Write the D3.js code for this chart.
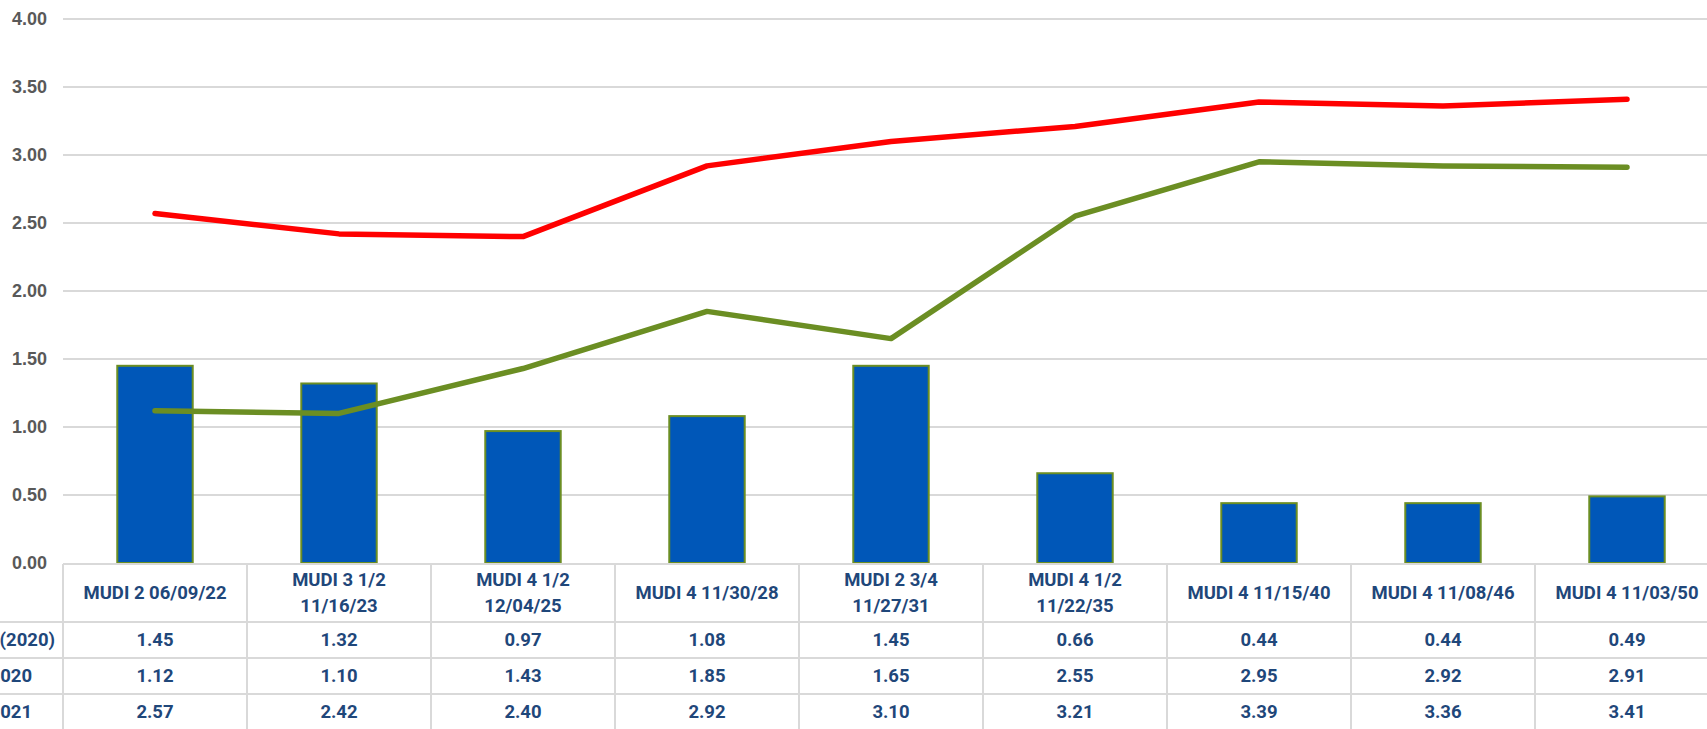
<!DOCTYPE html>
<html>
<head>
<meta charset="utf-8">
<script src="https://cdn.jsdelivr.net/npm/d3@7"></script>
<style>
  body { margin: 0; background: #fff; }
  svg { display: block; }
</style>
</head>
<body>
<div id="combo-chart"></div>
<script>
(function() {
  var width = 1707, height = 729;
  var margin = { top: 19, left: 63, bottom: 166 };

  // bond names, a "|" splits the header into two lines
  var categories = ["MUDI 2 06/09/22", "MUDI 3 1/2|11/16/23", "MUDI 4 1/2|12/04/25", "MUDI 4 11/30/28",
    "MUDI 2 3/4|11/27/31", "MUDI 4 1/2|11/22/35", "MUDI 4 11/15/40", "MUDI 4 11/08/46", "MUDI 4 11/03/50"]

  // the row labels are cut off by the left edge in the original
  var seriesNames = ["Cambio (2020)", "Tasa 2020", "Tasa 2021"]
  var barValues = [1.45, 1.32, 0.97, 1.08, 1.45, 0.66, 0.44, 0.44, 0.49]
  var green2020 = [1.12, 1.10, 1.43, 1.85, 1.65, 2.55, 2.95, 2.92, 2.91]
  var red2021 = [2.57, 2.42, 2.40, 2.92, 3.10, 3.21, 3.39, 3.36, 3.41]
  var yTicks = [0, 0.5, 1, 1.5, 2, 2.5, 3, 3.5, 4]

  var colWidth = 184
  var plotBottom = height - margin.bottom

  var svg = d3.select("#combo-chart")
    .append("svg")
    .attr("width", width)
    .attr("height", height)

  // one column per bond, the table runs off the right edge like the original
  var xColumn = d3.scaleBand()
    .domain(d3.range(categories.length))
    .range([margin.left, margin.left + colWidth * categories.length])
  var yScale = d3.scaleLinear().domain([0, 4]).range([plotBottom, margin.top])
  var barWidth = xColumn.bandwidth() * 0.41
  var center = function(i) { return xColumn(i) + xColumn.bandwidth() / 2 }

  // gridlines
  svg.append("g").selectAll("line")
    .data(yTicks.slice(1))
    .enter().append("line")
    .attr("x1", margin.left).attr("x2", width)
    .attr("y1", function(d) { return yScale(d) })
    .attr("y2", function(d) { return yScale(d) })
    .attr("stroke", "#d9d9d9")
    .attr("stroke-width", 2)

  var yAxis = d3.axisLeft(yScale).tickValues(yTicks).tickFormat(d3.format(".2f")).tickSize(0).tickPadding(0)
  svg.append("g")
    .attr("transform", "translate(47,0)")
    .call(yAxis)
    .call(function(g) { g.select(".domain").remove() })
    .selectAll("text")
    .attr("fill", "#595959")
    .style("font-family", "Liberation Sans, Arial, sans-serif")
    .style("font-weight", "bold")
    .style("font-size", "18px")

  // bars
  svg.append("g").selectAll("rect")
    .data(barValues)
    .enter().append("rect")
    .attr("x", function(d, i) { return center(i) - barWidth / 2 })
    .attr("y", function(d) { return yScale(d) })
    .attr("width", barWidth)
    .attr("height", function(d) { return plotBottom - yScale(d) })
    .attr("fill", "#0057b8")
    .attr("stroke", "#6b8e23")
    .attr("stroke-width", 2)

  var line = d3.line()
    .x(function(d, i) { return center(i) })
    .y(function(d) { return yScale(d) })

  svg.append("path")
    .datum(green2020)
    .attr("d", line)
    .attr("fill", "none")
    .attr("stroke", "#6b8e23")
    .attr("stroke-width", 5.5)
    .attr("stroke-linecap", "round")
    .attr("stroke-linejoin", "round")

  svg.append("path")
    .datum(red2021)
    .attr("d", line)
    .attr("fill", "none")
    .attr("stroke", "#ff0000")
    .attr("stroke-width", 5.5)
    .attr("stroke-linecap", "round")
    .attr("stroke-linejoin", "round")

  // data table under the plot
  var headerTop = plotBottom + 1, headerH = 58, rowH = 36
  var rowTops = [0, 1, 2].map(function(r) { return headerTop + headerH + r * rowH })
  var labelEnds = [55, 32, 32]
  var tableEnd = xColumn.range()[1]
  var table = svg.append("g")
  var gridStyle = function(sel) { sel.attr("stroke", "#d9d9d9").attr("stroke-width", 2) }

  table.append("line").attr("x1", margin.left).attr("x2", tableEnd)
    .attr("y1", headerTop).attr("y2", headerTop).call(gridStyle)
  table.selectAll(".row-line")
    .data(rowTops.concat([rowTops[2] + rowH]))
    .enter().append("line")
    .attr("x1", 0).attr("x2", tableEnd)
    .attr("y1", function(d) { return d }).attr("y2", function(d) { return d })
    .call(gridStyle)
  table.selectAll(".col-line")
    .data(d3.range(categories.length + 1))
    .enter().append("line")
    .attr("x1", function(i) { return margin.left + i * colWidth })
    .attr("x2", function(i) { return margin.left + i * colWidth })
    .attr("y1", headerTop).attr("y2", height)
    .call(gridStyle)

  var textStyle = function(sel) {
    sel.attr("fill", "#1f477a")
      .attr("text-anchor", "middle")
      .attr("dominant-baseline", "central")
      .style("font-family", "Roboto, sans-serif")
      .style("font-weight", "bold")
      .style("font-size", "18.5px")
  }

  categories.forEach(function(c, i) {
    var parts = c.split("|")
    var t = table.append("text").call(textStyle)
    parts.forEach(function(p, k) {
      t.append("tspan")
        .attr("x", center(i))
        .attr("y", headerTop + headerH / 2 + (k - (parts.length - 1) / 2) * 26)
        .text(p)
    })
  })

  var rows = [barValues, green2020, red2021]
  rows.forEach(function(vals, r) {
    table.append("text").call(textStyle)
      .attr("text-anchor", "end")
      .attr("x", labelEnds[r])
      .attr("y", rowTops[r] + rowH / 2)
      .text(seriesNames[r])
    table.selectAll(".cell-" + r)
      .data(vals)
      .enter().append("text").call(textStyle)
      .attr("x", function(d, i) { return center(i) })
      .attr("y", rowTops[r] + rowH / 2)
      .text(d3.format(".2f"))
  })
})();
</script>
</body>
</html>
